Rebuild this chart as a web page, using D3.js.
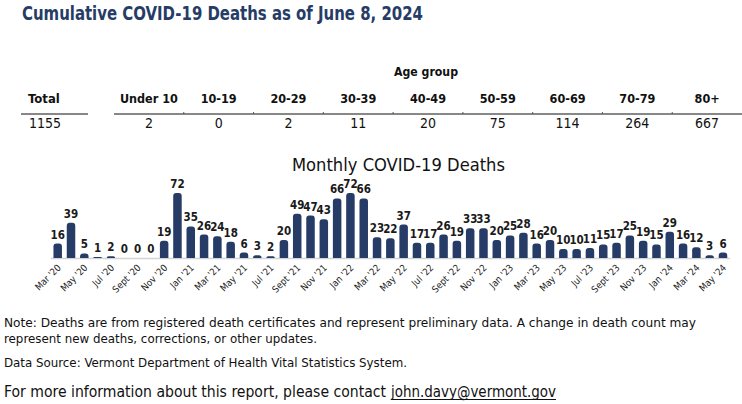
<!DOCTYPE html>
<html>
<head>
<meta charset="utf-8">
<script src="https://cdn.jsdelivr.net/npm/d3@7"></script>
<style>
  body { margin: 0; background: #fff; }
  text { font-family: "Liberation Sans Narrow", "DejaVu Sans Condensed", "Liberation Sans", sans-serif; }
</style>
</head>
<body>
<div id="main"></div>
<script>
// ---- data ----
const totalDeaths = 1155;
const ageGroups = ["Under 10", "10-19", "20-29", "30-39", "40-49", "50-59", "60-69", "70-79", "80+"];
const ageDeaths = [2, 0, 2, 11, 20, 75, 114, 264, 667];

const months = [
    "Mar '20", "Apr '20", "May '20", "Jun '20", "Jul '20", "Aug '20", "Sept '20", "Oct '20", "Nov '20", "Dec '20",
    "Jan '21", "Feb '21", "Mar '21", "Apr '21", "May '21", "Jun '21", "Jul '21", "Aug '21", "Sept '21", "Oct '21", "Nov '21", "Dec '21",
    "Jan '22", "Feb '22", "Mar '22", "Apr '22", "May '22", "Jun '22", "Jul '22", "Aug '22", "Sept '22", "Oct '22", "Nov '22", "Dec '22",
    "Jan '23", "Feb '23", "Mar '23", "Apr '23", "May '23", "Jun '23", "Jul '23", "Aug '23", "Sept '23", "Oct '23", "Nov '23", "Dec '23",
    "Jan '24", "Feb '24", "Mar '24", "Apr '24", "May '24"
];
const monthlyDeaths = [
    16, 39, 5, 1, 2, 0, 0, 0, 19, 72,
    35, 26, 24, 18, 6, 3, 2, 20, 49, 47, 43, 66,
    72, 66, 23, 22, 37, 17, 17, 26, 19, 33, 33, 20,
    25, 28, 16, 20, 10, 10, 11, 15, 17, 25, 19, 15,
    29, 16, 12, 3, 6
];

const ctx = {
    w: 742,
    h: 404,
    navy: "#263c66",
    // bar chart
    chart_left: 51,
    chart_right: 730,
    base_y: 258,
    top_y: 193,
    bar_w: 8.5,
};

function createViz() {
    let svg = d3.select("#main").append("svg")
        .attr("width", ctx.w)
        .attr("height", ctx.h);

    svg.append("text")
        .attr("x", 22).attr("y", 20)
        .attr("textLength", 401).attr("lengthAdjust", "spacingAndGlyphs")
        .style("font-size", "19px").style("font-weight", "bold")
        .style("fill", ctx.navy)
        .text("Cumulative COVID-19 Deaths as of June 8, 2024");

    createTable(svg);
    createBarChart(svg);
    createNotes(svg);
}

function createTable(svg) {
    let g = svg.append("g").attr("id", "table");

    let x = d3.scaleBand()
        .domain(ageGroups)
        .range([114, 742]);

    g.append("text")
        .attr("x", 394).attr("y", 76)
        .attr("textLength", 64).attr("lengthAdjust", "spacingAndGlyphs")
        .style("font-size", "13px").style("font-weight", "bold").style("fill", "#111")
        .text("Age group");

    // total column
    g.append("text")
        .attr("x", 28).attr("y", 103)
        .style("font-size", "13px").style("font-weight", "bold").style("fill", "#111")
        .text("Total");
    g.append("line")
        .attr("x1", 21).attr("x2", 88).attr("y1", 114).attr("y2", 114)
        .style("stroke", "#111").style("stroke-width", 1);
    g.append("text")
        .attr("x", 29).attr("y", 128)
        .style("font-size", "14px").style("fill", "#111")
        .text(totalDeaths);

    // age columns
    g.append("line")
        .attr("x1", 114).attr("x2", 742).attr("y1", 114).attr("y2", 114)
        .style("stroke", "#111").style("stroke-width", 1);

    g.selectAll(".sep")
        .data(ageGroups.slice(1))
        .enter().append("line")
        .attr("class", "sep")
        .attr("x1", d => x(d)).attr("x2", d => x(d))
        .attr("y1", 112).attr("y2", 114)
        .style("stroke", "#555");

    g.selectAll(".head")
        .data(ageGroups)
        .enter().append("text")
        .attr("class", "head")
        .attr("x", d => x(d) + x.bandwidth() / 2)
        .attr("y", 103)
        .attr("text-anchor", "middle")
        .style("font-size", "12.5px").style("font-weight", "bold").style("fill", "#111")
        .text(d => d);

    g.selectAll(".val")
        .data(ageDeaths)
        .enter().append("text")
        .attr("class", "val")
        .attr("x", (d, i) => x(ageGroups[i]) + x.bandwidth() / 2)
        .attr("y", 128)
        .attr("text-anchor", "middle")
        .style("font-size", "14px").style("fill", "#111")
        .text(d => d);
}

// bar with rounded top corners
function barPath(x0, y0, w, h) {
    let r = Math.min(3, h, w / 2);
    if (h <= 0) return "";
    return "M" + x0 + "," + (y0 + h)
        + "V" + (y0 + r)
        + "Q" + x0 + "," + y0 + " " + (x0 + r) + "," + y0
        + "H" + (x0 + w - r)
        + "Q" + (x0 + w) + "," + y0 + " " + (x0 + w) + "," + (y0 + r)
        + "V" + (y0 + h) + "Z";
}

function createBarChart(svg) {
    let g = svg.append("g").attr("id", "bars");

    let x = d3.scalePoint()
        .domain(months)
        .range([57.7, 723]);

    let y = d3.scaleLinear()
        .domain([0, 72])
        .range([ctx.base_y, ctx.top_y]);

    g.append("text")
        .attr("x", 292).attr("y", 171)
        .attr("textLength", 213).attr("lengthAdjust", "spacingAndGlyphs")
        .style("font-size", "18px").style("fill", "#111")
        .text("Monthly COVID-19 Deaths");

    g.append("line")
        .attr("x1", ctx.chart_left).attr("x2", ctx.chart_right)
        .attr("y1", ctx.base_y + 0.5).attr("y2", ctx.base_y + 0.5)
        .style("stroke", "#d4d4d4").style("stroke-width", 1.5);

    g.selectAll("path.bar")
        .data(monthlyDeaths)
        .enter().append("path")
        .attr("class", "bar")
        .attr("d", (d, i) => barPath(x(months[i]) - ctx.bar_w / 2, y(d), ctx.bar_w, ctx.base_y - y(d)))
        .style("fill", ctx.navy);

    g.selectAll("text.lbl")
        .data(monthlyDeaths)
        .enter().append("text")
        .attr("class", "lbl")
        .attr("x", (d, i) => x(months[i]))
        .attr("y", d => y(d) - 5)
        .attr("text-anchor", "middle")
        .style("font-size", "11.5px").style("font-weight", "bold").style("fill", "#1a1a1a")
        .text(d => d);

    let xAxis = d3.axisBottom(x)
        .tickValues(months.filter((m, i) => i % 2 == 0))
        .tickSize(0)
        .tickPadding(0);

    let ax = g.append("g")
        .attr("transform", "translate(0," + (ctx.base_y + 4) + ")")
        .call(xAxis);
    ax.select(".domain").remove();
    ax.selectAll("text")
        .attr("transform", "translate(1,4) rotate(-45)")
        .attr("dy", "0.35em")
        .attr("y", 0)
        .attr("text-anchor", "end")
        .style("font-family", "\"Liberation Sans Narrow\", \"DejaVu Sans Condensed\", sans-serif")
        .style("font-size", "9.5px")
        .style("fill", "#222");
}

function createNotes(svg) {
    let g = svg.append("g").attr("id", "notes");
    let lines = [
        { t: "Note: Deaths are from registered death certificates and represent preliminary data. A change in death count may", x: 4, y: 327, len: 692, fs: 12.5 },
        { t: "represent new deaths, corrections, or other updates.", x: 4, y: 343, len: 313, fs: 12.5 },
        { t: "Data Source: Vermont Department of Health Vital Statistics System.", x: 4, y: 367, len: 403, fs: 12.5 },
    ];
    g.selectAll("text.note")
        .data(lines)
        .enter().append("text")
        .attr("class", "note")
        .attr("x", d => d.x).attr("y", d => d.y)
        .attr("textLength", d => d.len).attr("lengthAdjust", "spacingAndGlyphs")
        .style("font-size", d => d.fs + "px").style("fill", "#111")
        .text(d => d.t);

    let t = g.append("text")
        .attr("x", 4).attr("y", 397)
        .style("font-size", "15px").style("fill", "#111");
    t.append("tspan")
        .attr("textLength", 382).attr("lengthAdjust", "spacingAndGlyphs")
        .text("For more information about this report, please contact");
    t.append("tspan")
        .attr("x", 391)
        .attr("textLength", 165).attr("lengthAdjust", "spacingAndGlyphs")
        .text("john.davy@vermont.gov");
    g.append("line")
        .attr("x1", 391).attr("x2", 556).attr("y1", 399.5).attr("y2", 399.5)
        .style("stroke", "#111").style("stroke-width", 1);
}

createViz();
</script>
</body>
</html>
